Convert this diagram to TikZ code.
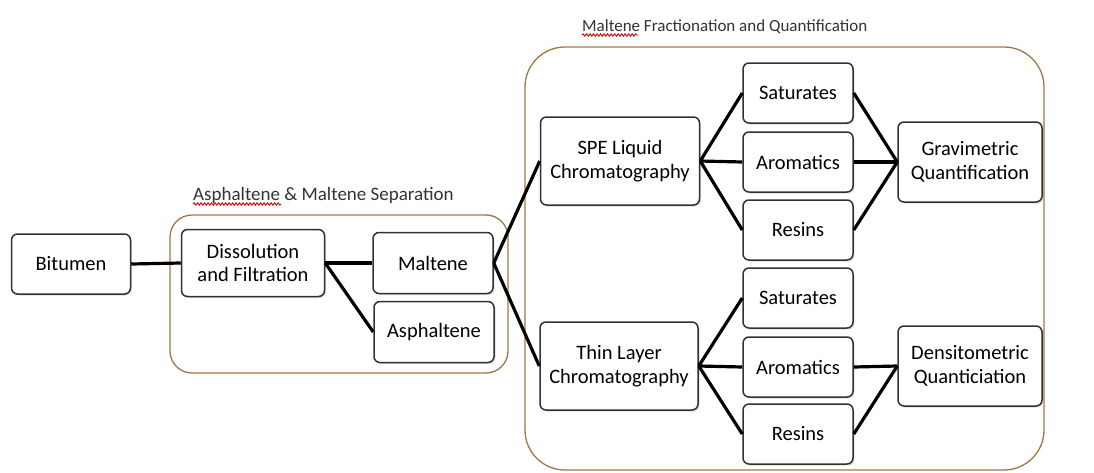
\documentclass[tikz,border=0pt]{standalone}
\usepackage{fontspec}
\setmainfont{Carlito}
\usetikzlibrary{shadows,decorations.pathmorphing}
\definecolor{grpborder}{RGB}{160,120,70}
\definecolor{boxborder}{RGB}{50,50,50}
\begin{document}
\begin{tikzpicture}[x=1pt,y=-1pt,
  stepbox/.style={draw=boxborder, line width=1.5pt, rounded corners=6pt, fill=white,
    align=center, inner sep=2pt, font=\fontsize{20.5}{23.5}\selectfont,
    drop shadow={opacity=0.25, shadow xshift=1.5pt, shadow yshift=-1.5pt}},
  group/.style={draw=grpborder, line width=1.3pt, fill=white},
  grouplabel/.style={anchor=base west, inner sep=0pt, text=black!80},
  link/.style={line width=3.2pt, black},
  spell/.style={draw=red!85!black, line width=0.9pt, decorate,
    decoration={snake, segment length=3.5pt, amplitude=1.2pt}}
]
\useasboundingbox (0,0) rectangle (1094,472);
\fill[white] (0,0) rectangle (1094,472);

% group frames
\draw[group, rounded corners=22pt] (170,215) rectangle (508,373);
\draw[group, rounded corners=40pt] (525,47) rectangle (1044,470);

% group labels
\node[grouplabel, font=\fontsize{19}{21}\selectfont] (lab1) at (193,200) {Asphaltene \& Maltene Separation};
\node[grouplabel, font=\fontsize{17}{20}\selectfont] (lab2) at (582,31) {Maltene Fractionation and Quantification};
\draw[spell] (193,204) -- (281,204);
\draw[spell] (582,35) -- (638,35);

% nodes
\node[stepbox, minimum width=119pt, minimum height=60pt] (bit) at (71,264) {Bitumen};
\node[stepbox, minimum width=143pt, minimum height=67pt] (dis) at (253,263) {Dissolution\\and Filtration};
\node[stepbox, minimum width=120pt, minimum height=61pt] (mal) at (433,263) {Maltene};
\node[stepbox, minimum width=120pt, minimum height=61pt] (asp) at (434,332) {Asphaltene};

\node[stepbox, minimum width=159pt, minimum height=88pt] (spe) at (620,161) {SPE Liquid\\Chromatography};
\node[stepbox, minimum width=158pt, minimum height=88pt] (tlc) at (619,366) {Thin Layer\\Chromatography};

\node[stepbox, minimum width=110pt, minimum height=60pt] (sat1) at (798,93) {Saturates};
\node[stepbox, minimum width=110pt, minimum height=60pt] (aro1) at (798,162) {Aromatics};
\node[stepbox, minimum width=110pt, minimum height=60pt] (res1) at (798,230) {Resins};

\node[stepbox, minimum width=110pt, minimum height=60pt] (sat2) at (798,298) {Saturates};
\node[stepbox, minimum width=110pt, minimum height=60pt] (aro2) at (798,367) {Aromatics};
\node[stepbox, minimum width=110pt, minimum height=60pt] (res2) at (798,434) {Resins};

\node[stepbox, minimum width=144pt, minimum height=80pt] (grav) at (970,162) {Gravimetric\\Quantification};
\node[stepbox, minimum width=144pt, minimum height=80pt] (dens) at (970,366) {Densitometric\\Quanticiation};

% connectors
\draw[link] (bit.east) -- (dis.west);
\draw[link] (dis.east) -- (mal.west);
\draw[link] (dis.east) -- (asp.west);
\draw[link] (mal.east) -- (spe.west);
\draw[link] (mal.east) -- (tlc.west);

\draw[link] (spe.east) -- (sat1.west);
\draw[link] (spe.east) -- (aro1.west);
\draw[link] (spe.east) -- (res1.west);
\draw[link] (sat1.east) -- (grav.west);
\draw[link] (aro1.east) -- (grav.west);
\draw[link] (res1.east) -- (grav.west);

\draw[link] (tlc.east) -- (sat2.west);
\draw[link] (tlc.east) -- (aro2.west);
\draw[link] (tlc.east) -- (res2.west);
\draw[link] (aro2.east) -- (dens.west);
\draw[link] (res2.east) -- (dens.west);
\end{tikzpicture}
\end{document}
